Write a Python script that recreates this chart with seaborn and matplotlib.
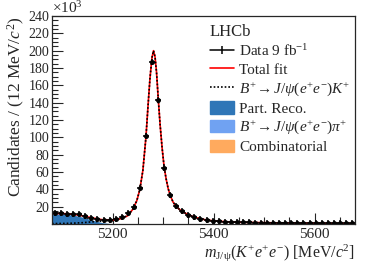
import numpy as np
import pandas as pd
import seaborn as sns
import matplotlib.pyplot as plt
from matplotlib.lines import Line2D
from matplotlib.patches import Patch

# Данные: центры бинов (12 МэВ) и число событий, в тысячах
bin_centers = [5086 + 12 * i for i in range(50)]
counts = [13, 12.5, 12, 12, 11, 9.5, 7.5, 5.5, 4.2, 4.3, 5.5, 8.5, 13, 20, 42,
          101, 187, 143, 65, 33, 21, 14.5, 10.5, 8, 6, 4.8, 4, 3.3, 2.8, 2.5,
          2.2, 2, 1.9, 1.7, 1.6, 1.5, 1.4, 1.3, 1.25, 1.2, 1.1, 1.05, 1, 1,
          0.95, 0.9, 0.9, 0.85, 0.8, 0.8]

# Кривые фита
fit_x = [5080, 5100, 5120, 5140, 5160, 5180, 5200, 5215, 5230, 5240, 5248,
         5254, 5260, 5266, 5270, 5274, 5278, 5281, 5284, 5287, 5290, 5294,
         5298, 5302, 5306, 5310, 5314, 5320, 5326, 5332, 5338, 5350, 5362,
         5374, 5386, 5400, 5425, 5450, 5500, 5550, 5600, 5650, 5680]
signal = [0.5, 0.6, 0.9, 1.5, 2.5, 3.4, 4.4, 6, 9.5, 17, 27, 40, 62, 100, 135,
          168, 192, 200, 193, 175, 148, 115, 88, 66, 52, 41, 33, 25, 20.5, 17,
          14.5, 10.5, 8, 6, 4.6, 3.6, 2.6, 2, 1.5, 1.2, 1, 0.8, 0.7]
part_reco = [11.5, 11.5, 10.5, 8, 4.5, 1.5, 0.3, 0, 0, 0, 0, 0, 0, 0, 0, 0,
             0, 0, 0, 0, 0, 0, 0, 0, 0, 0, 0, 0, 0, 0, 0, 0, 0, 0, 0, 0, 0, 0,
             0, 0, 0, 0, 0]
pi_mode = [0] * 43
combinatorial = [0] * 43

fit = pd.DataFrame({'x': fit_x, 'signal': signal, 'part_reco': part_reco,
                    'pi_mode': pi_mode, 'comb': combinatorial})
fit['total'] = fit['signal'] + fit['part_reco'] + fit['pi_mode'] + fit['comb']

sns.set_theme(style='ticks')
plt.rcParams['font.family'] = ['Liberation Serif', 'DejaVu Serif']
plt.rcParams['mathtext.fontset'] = 'custom'
plt.rcParams['mathtext.rm'] = 'Liberation Serif'
plt.rcParams['mathtext.it'] = 'Liberation Serif:italic'

c_reco, c_pi, c_comb = '#2f76b7', '#70a2f2', '#ffaa5e'

fig, ax = plt.subplots(figsize=(3.74, 2.68), dpi=100)
fig.subplots_adjust(left=52 / 374, right=355 / 374, top=1 - 16 / 268,
                    bottom=1 - 224 / 268)

ax.fill_between(fit['x'], 0, fit['comb'], color=c_comb, lw=0)
ax.fill_between(fit['x'], fit['comb'], fit['comb'] + fit['pi_mode'],
                color=c_pi, lw=0)
ax.fill_between(fit['x'], fit['comb'] + fit['pi_mode'],
                fit['comb'] + fit['pi_mode'] + fit['part_reco'],
                color=c_reco, lw=0)
sns.lineplot(data=fit, x='x', y='total', color='red', lw=1.2, ax=ax)
sns.lineplot(data=fit, x='x', y='signal', color='black', lw=1.2,
             ls=(0, (1, 1.2)), ax=ax)

yerr = np.sqrt(np.array(counts) * 1000) / 1000
ax.errorbar(bin_centers, counts, xerr=6, yerr=yerr, fmt='o', ms=2.5,
            color='black', elinewidth=1.1, capsize=0)
ax.plot(bin_centers, counts, '|', ms=5, mew=1.1, color='black')

ax.set_xlim(5080, 5680)
ax.set_ylim(0, 240)
ax.set_xticks([5200, 5400, 5600])
ax.set_xticks(np.arange(5100, 5680, 50), minor=True)
ax.set_yticks(np.arange(20, 241, 20))
ax.set_yticks(np.arange(0, 241, 5), minor=True)
ax.tick_params(which='both', direction='in', top=False, right=False)
ax.tick_params(axis='y', which='major', length=8, width=0.8, labelsize=10, pad=2)
ax.tick_params(axis='y', which='minor', length=4, width=0.8)
ax.tick_params(axis='x', which='major', length=8, width=0.8, labelsize=11, pad=3)
ax.tick_params(axis='x', which='minor', length=5, width=0.8)
for s in ax.spines.values():
    s.set_linewidth(0.9)

ax.set_xlabel(r'$m_{\mathrm{J/\psi}}(K^{+}e^{+}e^{-})$ [MeV/$c^{2}$]',
              fontsize=11.5, loc='right', labelpad=1)
ax.set_ylabel(r'Candidates / (12 MeV/$c^{2}$)', fontsize=12.5, loc='top',
              labelpad=1)
ax.text(0, 1.0, r'$\times10^{3}$', transform=ax.transAxes, fontsize=11,
        ha='left', va='bottom')

handles = [
    Line2D([], [], color='black', lw=1.1, marker='|', ms=6, mew=1.1),
    Line2D([], [], color='red', lw=1.2),
    Line2D([], [], color='black', lw=1.2, ls=(0, (1, 1.2))),
    Patch(color=c_reco),
    Patch(color=c_pi),
    Patch(color=c_comb),
]
labels = [r'Data 9 fb$^{-1}$', 'Total fit',
          r'$B^{+}\!\rightarrow J/\psi(e^{+}e^{-})K^{+}$', 'Part. Reco.',
          r'$B^{+}\!\rightarrow J/\psi(e^{+}e^{-})\pi^{+}$', 'Combinatorial']
ax.legend(handles, labels, title='LHCb', loc='upper left',
          bbox_to_anchor=(0.5, 0.99), frameon=False, fontsize=11,
          title_fontsize=12, handlelength=1.6, handleheight=0.9,
          handletextpad=0.35, labelspacing=0.21, borderaxespad=0,
          alignment='left')

plt.savefig('out.png', dpi=100)
